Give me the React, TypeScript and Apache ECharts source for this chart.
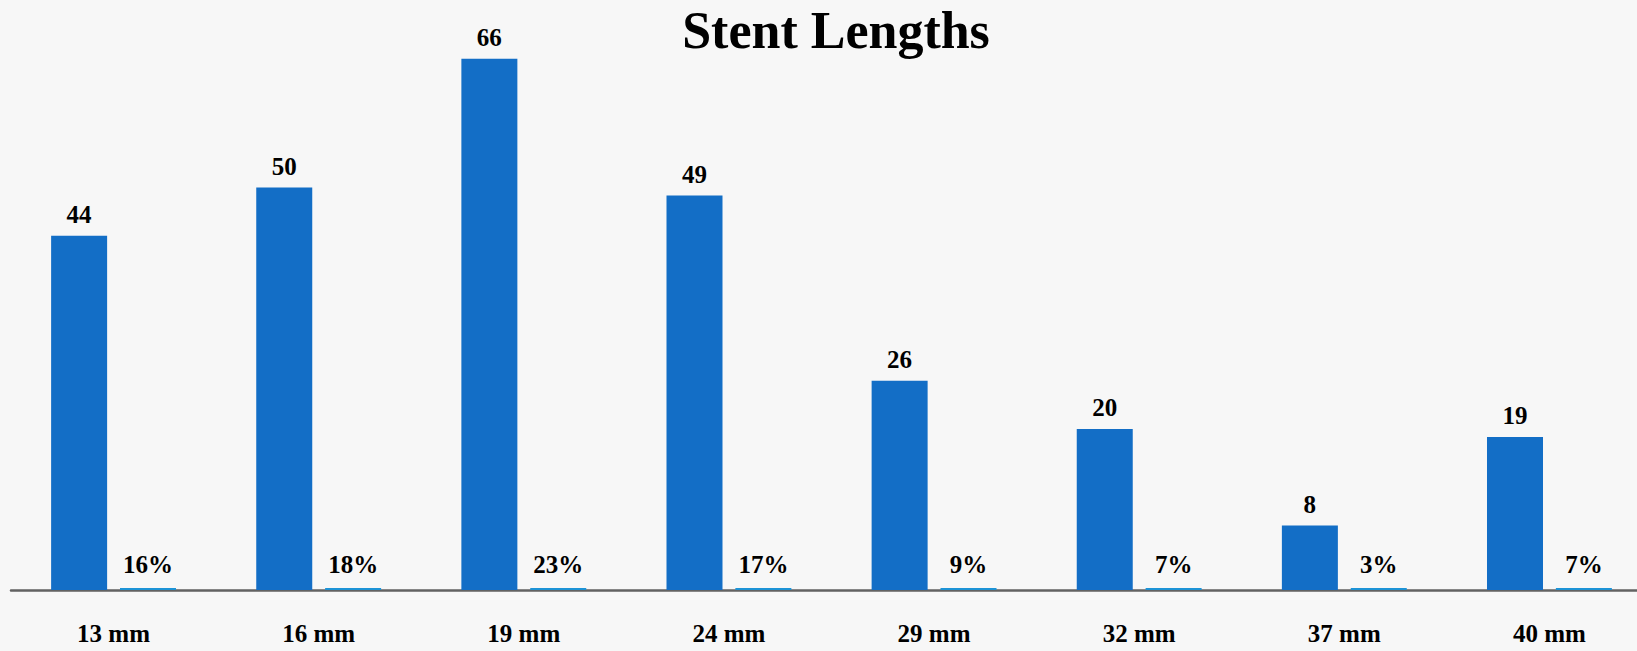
import React, { useEffect, useRef } from "react";
import * as echarts from "echarts";

const categories = ["13 mm", "16 mm", "19 mm", "24 mm", "29 mm", "32 mm", "37 mm", "40 mm"];
const counts = [44, 50, 66, 49, 26, 20, 8, 19];
const shares = [0.16, 0.18, 0.23, 0.17, 0.09, 0.07, 0.03, 0.07];
const titleText = "Stent Lengths";

const FONT = '"Liberation Serif", "Times New Roman", serif';

export default function App() {
  const ref = useRef<HTMLDivElement>(null);

  useEffect(() => {
    document.body.style.margin = "0";
    if (!ref.current) return;
    const chart = echarts.init(ref.current, null, { renderer: "svg" });
    chart.setOption({
      animation: false,
      backgroundColor: "#f7f7f7",
      graphic: [
        {
          type: "text",
          x: 836,
          y: 30,
          style: {
            text: titleText,
            fontSize: 52,
            fontWeight: "bold",
            fontFamily: FONT,
            fill: "#000000",
            align: "center",
            verticalAlign: "middle",
          },
        },
      ],
      grid: { left: 11, width: 1641, top: 26.5, bottom: 61, outerBoundsMode: "none", containLabel: false },
      xAxis: {
        type: "category",
        data: categories,
        offset: 1,
        axisLine: { show: true, lineStyle: { color: "#626262", width: 2.5 } },
        axisTick: { show: false },
        axisLabel: {
          margin: 30,
          color: "#000000",
          fontSize: 25,
          fontWeight: "bold",
          fontFamily: FONT,
        },
      },
      yAxis: {
        type: "value",
        min: 0,
        max: 70,
        show: false,
        splitLine: { show: false },
      },
      series: [
        {
          type: "bar",
          data: counts,
          barWidth: 56,
          barGap: "23%",
          itemStyle: { color: "#136ec6" },
          label: {
            show: true,
            position: "top",
            distance: 9,
            color: "#000000",
            fontSize: 25,
            fontWeight: "bold",
            fontFamily: FONT,
          },
        },
        {
          type: "bar",
          data: shares,
          barWidth: 56,
          barMinHeight: 2,
          itemStyle: { color: "#1d93d6" },
          label: {
            show: true,
            position: "top",
            distance: 11,
            color: "#000000",
            fontSize: 25,
            fontWeight: "bold",
            fontFamily: FONT,
            formatter: (p: any) => Math.round(p.value * 100) + "%",
          },
        },
      ],
    });
    return () => chart.dispose();
  }, []);

  return <div ref={ref} style={{ width: 1637, height: 651 }} />;
}
